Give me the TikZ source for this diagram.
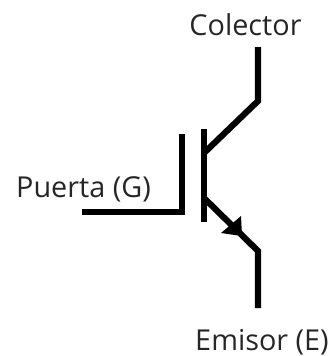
\documentclass[tikz,border=0pt]{standalone}
\usepackage{fontspec}
\setmainfont{Open Sans}
\tikzset{wire/.style={line width=6.2pt,black,line join=miter},lbl/.style={inner sep=0pt,font=\fontsize{28.8pt}{32pt}\selectfont,text=black!85}}
\begin{document}
\begin{tikzpicture}[x=1pt,y=-1pt]
\useasboundingbox (0,0) rectangle (331,356);
\node[lbl] (c) at (245.5,25) {Colector};
\node[lbl] (g) at (83.5,189) {Puerta (G)};
\node[lbl] (e) at (262,342) {Emisor (E)};
\coordinate (c1) at (258,47);
\coordinate (c2) at (258,101);
\coordinate (bt) at (204,153);
\coordinate (et) at (204,198);
\coordinate (e2) at (258,251);
\coordinate (e3) at (258,308);
\coordinate (g0) at (82,212);
\coordinate (g1) at (182,212);
\coordinate (g2) at (182,134);
\coordinate (b1) at (204,129);
\coordinate (b2) at (204,222);
\draw[wire] (c1) -- (c2) -- (bt);
\draw[wire] (et) -- (e2) -- (e3);
\draw[wire] (g0) -- (g1) -- (g2);
\draw[wire] (b1) -- (b2);
\fill[black] (241,216) -- (221,233) -- (242,236) -- cycle;
\end{tikzpicture}
\end{document}
